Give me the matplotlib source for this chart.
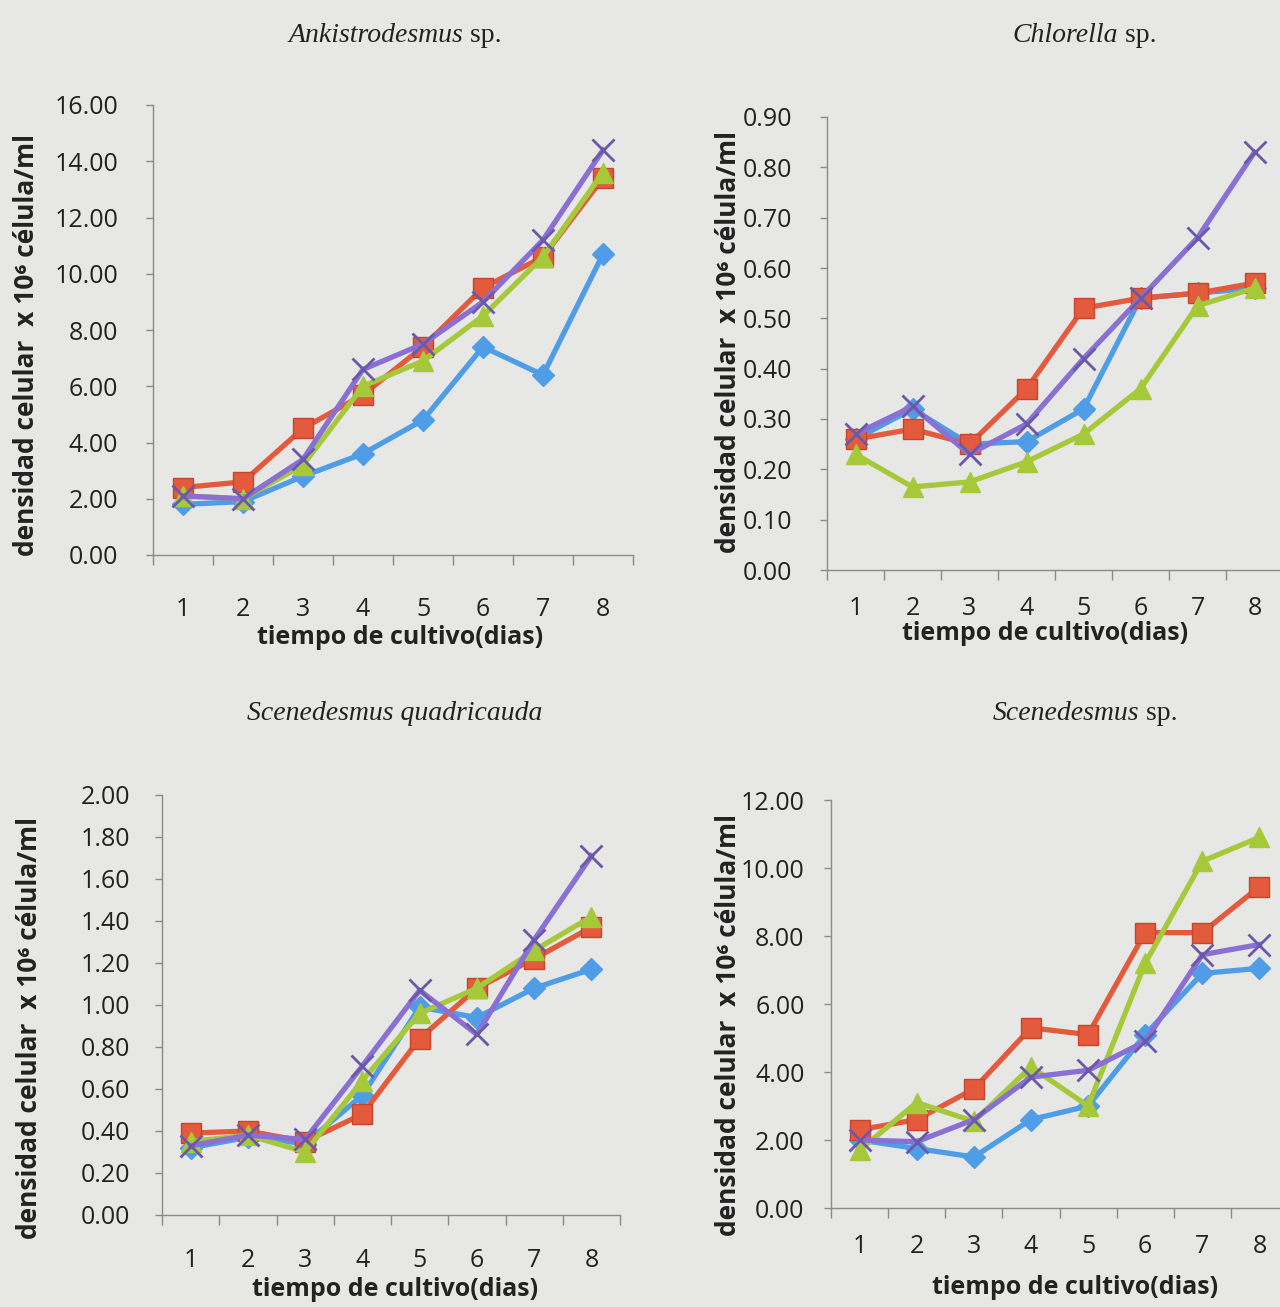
import matplotlib
matplotlib.use("Agg")
import matplotlib.pyplot as plt
from matplotlib.ticker import FixedLocator, NullFormatter, FormatStrFormatter

# ---------------- data ----------------
days = [1, 2, 3, 4, 5, 6, 7, 8]

ank_blue   = [1.8, 1.9, 2.8, 3.6, 4.8, 7.4, 6.4, 10.7]
ank_red    = [2.4, 2.6, 4.5, 5.7, 7.4, 9.5, 10.6, 13.4]
ank_green  = [2.1, 2.0, 3.2, 6.0, 6.9, 8.5, 10.6, 13.6]
ank_purple = [2.1, 2.0, 3.4, 6.6, 7.5, 9.0, 11.2, 14.4]

chl_blue   = [0.26, 0.32, 0.25, 0.255, 0.32, 0.54, 0.55, 0.56]
chl_red    = [0.26, 0.28, 0.25, 0.36, 0.52, 0.54, 0.55, 0.57]
chl_green  = [0.23, 0.165, 0.175, 0.215, 0.27, 0.36, 0.525, 0.56]
chl_purple = [0.27, 0.325, 0.23, 0.29, 0.42, 0.54, 0.66, 0.83]

sq_blue   = [0.32, 0.37, 0.34, 0.57, 0.99, 0.94, 1.08, 1.17]
sq_red    = [0.39, 0.40, 0.35, 0.48, 0.84, 1.08, 1.22, 1.37]
sq_green  = [0.35, 0.38, 0.30, 0.64, 0.96, 1.08, 1.26, 1.42]
sq_purple = [0.33, 0.38, 0.36, 0.71, 1.07, 0.86, 1.31, 1.71]

sc_blue   = [2.0, 1.75, 1.5, 2.6, 3.0, 5.1, 6.9, 7.05]
sc_red    = [2.3, 2.6, 3.5, 5.3, 5.1, 8.1, 8.1, 9.45]
sc_green  = [1.7, 3.1, 2.55, 4.15, 3.0, 7.2, 10.2, 10.9]
sc_purple = [2.0, 1.95, 2.6, 3.85, 4.05, 4.9, 7.45, 7.75]

titles = [("Ankistrodesmus", " sp."), ("Chlorella", " sp."),
          ("Scenedesmus quadricauda", ""), ("Scenedesmus", " sp.")]
ylims = [16.0, 0.90, 2.00, 12.00]
ysteps = [2.0, 0.10, 0.20, 2.00]
xlabel = "tiempo de cultivo(dias)"
ylabel = "densidad celular  x 10\u2076 célula/ml"

# ---------------- style ----------------
W, H = 1280, 1307
BG = "#e7e7e5"
C_BLUE, C_RED, C_GREEN, C_PURPLE = "#4f9de6", "#e35b3c", "#a6c93a", "#8a70d4"
SANS = ["Open Sans", "DejaVu Sans"]
SERIF = ["Liberation Serif", "DejaVu Serif"]

fig = plt.figure(figsize=(W / 100, H / 100), dpi=100, facecolor=BG)

def px_axes(left, right, y_bottom, y_top):
    return fig.add_axes([left / W, (H - y_bottom) / H, (right - left) / W, (y_bottom - y_top) / H])

# pixel boxes: left, right, y of zero, y of max; tick pads; title / label positions
panels = [
    dict(box=(153, 633, 555, 105), data=(ank_blue, ank_red, ank_green, ank_purple),
         title_xy=(395, 35), xl_xy=(400, 638), yl_xy=(27, 345), xpad=30, ypad=20),
    dict(box=(827, 1283, 570, 117), data=(chl_blue, chl_red, chl_green, chl_purple),
         title_xy=(1085, 35), xl_xy=(1045, 634), yl_xy=(728, 342), xpad=19, ypad=20),
    dict(box=(162, 620, 1215, 795), data=(sq_blue, sq_red, sq_green, sq_purple),
         title_xy=(395, 713), xl_xy=(395, 1290), yl_xy=(30, 1028), xpad=24, ypad=18),
    dict(box=(831, 1288, 1208, 800), data=(sc_blue, sc_red, sc_green, sc_purple),
         title_xy=(1085, 713), xl_xy=(1075, 1288), yl_xy=(728, 1025), xpad=19, ypad=14),
]

styles = [
    dict(color=C_BLUE, marker="D", ms=11, mec=C_BLUE),
    dict(color=C_RED, marker="s", ms=15, mec="#c8442a"),
    dict(color=C_GREEN, marker="^", ms=14, mec=C_GREEN),
    dict(color=C_PURPLE, marker="x", ms=16, mec="#6a58a8", mew=2.0),
]

for i, p in enumerate(panels):
    ax = px_axes(*p["box"])
    ax.set_facecolor(BG)
    for vals, st in zip(p["data"], styles):
        ax.plot(days, vals, lw=3.8, color=st["color"], marker=st["marker"],
                ms=st["ms"], mfc=st["color"], mec=st["mec"],
                mew=st.get("mew", 1.0), solid_joinstyle="round", clip_on=False)
    ax.set_xlim(0.5, 8.5)
    ax.set_ylim(0, ylims[i])
    ax.xaxis.set_major_locator(FixedLocator([d + 0.5 for d in [0] + days]))
    ax.xaxis.set_major_formatter(NullFormatter())
    ax.set_xticks(days, [str(d) for d in days], minor=True)
    ax.tick_params(axis="x", which="minor", length=0, pad=p["xpad"],
                   labelsize=18, labelcolor="#222222")
    ax.tick_params(axis="x", which="major", length=7, width=1.0, color="#8a8a8a", direction="out")
    n = int(round(ylims[i] / ysteps[i]))
    ax.set_yticks([k * ysteps[i] for k in range(n + 1)])
    ax.yaxis.set_major_formatter(FormatStrFormatter("%.2f"))
    ax.tick_params(axis="y", length=5, width=1.0, color="#8a8a8a", direction="out",
                   pad=p["ypad"], labelsize=18, labelcolor="#222222")
    for lab in ax.get_xticklabels(minor=True) + ax.get_yticklabels():
        lab.set_family(SANS)
    for s in ("top", "right"):
        ax.spines[s].set_visible(False)
    for s in ("left", "bottom"):
        ax.spines[s].set_color("#8a8a8a")
        ax.spines[s].set_linewidth(1.0)

    it, reg = titles[i]
    tx, ty = p["title_xy"]
    t1 = fig.text(tx / W, 1 - ty / H, it, fontsize=20, style="italic", family=SERIF,
                  color="#222222", ha="right" if reg else "center", va="center")
    if reg:
        fig.canvas.draw()
        r = fig.canvas.get_renderer()
        w_it = t1.get_window_extent(r).width
        t2 = fig.text(0, 0, reg, fontsize=20, family=SERIF, color="#222222", va="center")
        w_reg = t2.get_window_extent(r).width
        x_split = tx - (w_it + w_reg) / 2 + w_it
        t1.set_position((x_split / W, 1 - ty / H))
        t2.set_position((x_split / W, 1 - ty / H))

    xx, xy = p["xl_xy"]
    fig.text(xx / W, 1 - xy / H, xlabel, fontsize=18, fontweight="bold", family=SANS,
             color="#222222", ha="center", va="center")
    yx, yy = p["yl_xy"]
    fig.text(yx / W, 1 - yy / H, ylabel, fontsize=19, fontweight="bold", family=SANS,
             color="#222222", ha="center", va="center", rotation=90)

fig.savefig("out.png", dpi=100, facecolor=BG)
